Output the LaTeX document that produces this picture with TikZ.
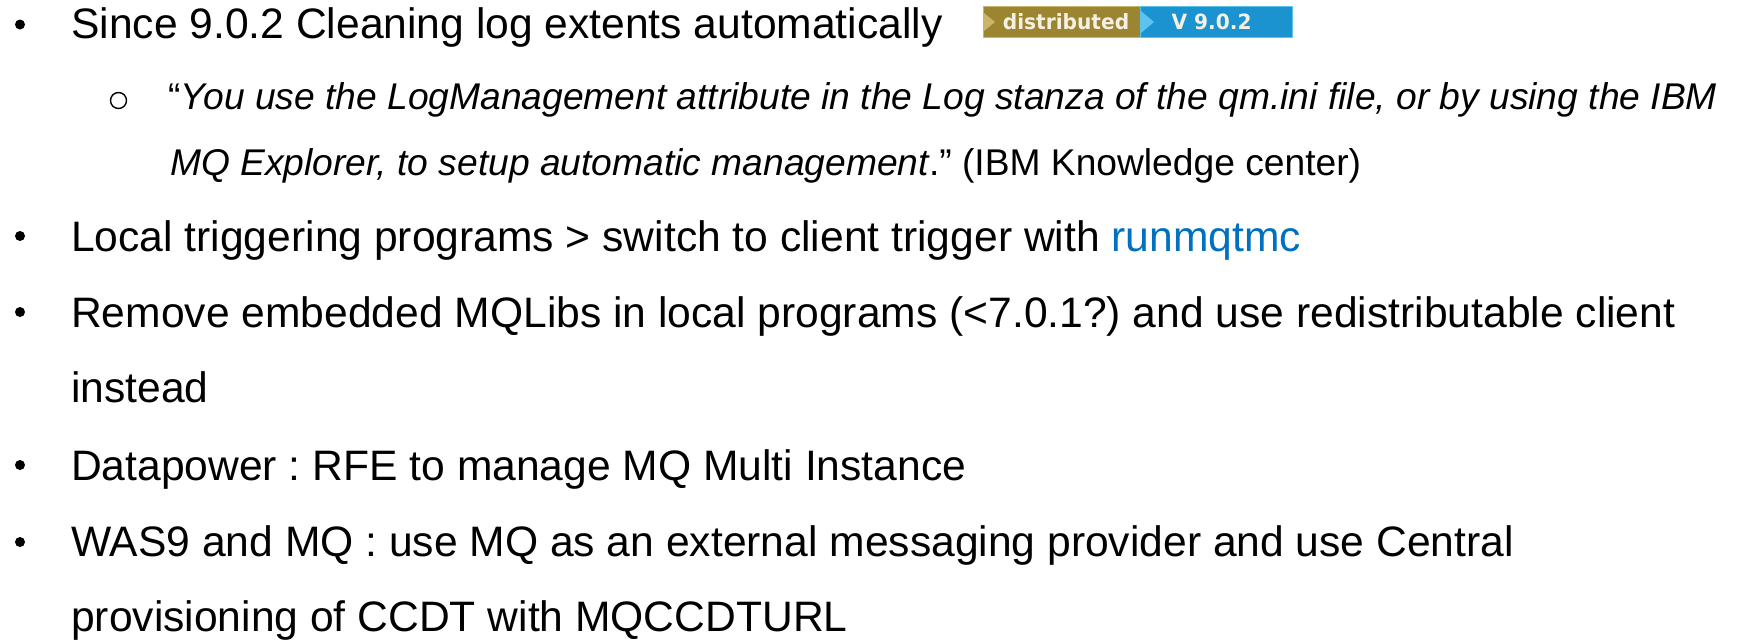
\documentclass[tikz,border=0pt]{standalone}
\usepackage{fontspec}
\setmainfont{Liberation Sans}
\newfontfamily\badgefont{DejaVu Sans}
\frenchspacing
\definecolor{linkblue}{HTML}{0070C0}
\definecolor{badgegold}{HTML}{9C8530}
\definecolor{badgegoldlt}{HTML}{C9B46A}
\definecolor{badgeblue}{HTML}{1B93D0}
\definecolor{badgebluelt}{HTML}{5CC3EE}
\definecolor{badgetext}{HTML}{F4F0E4}
\tikzset{
  x=1pt,y=1pt,
  maintext/.style={anchor=base west,inner sep=0pt,font=\fontsize{42.6}{50}\selectfont},
  subtext/.style={anchor=base west,inner sep=0pt,font=\fontsize{37.2}{44}\selectfont},
  dotbullet/.style={circle,fill=black,minimum size=10pt,inner sep=0pt},
  ringbullet/.style={circle,draw=black,line width=1.4pt,minimum size=16pt,inner sep=0pt},
  badgelabel/.style={inner sep=0pt,text=badgetext,font=\badgefont\bfseries\fontsize{21}{24}\selectfont}
}
\begin{document}
\begin{tikzpicture}
\useasboundingbox (0,0) rectangle (1741,-641);
\fill[white] (0,0) rectangle (1741,-641);
% line 1
\node[dotbullet] (b1) at (20,-24.5) {};
\node[maintext] (t1) at (71,-38) {Since 9.0.2 Cleaning log extents automatically};
% badge
\filldraw[fill=badgegold,draw=badgegoldlt,line width=1pt] (983.5,-6.5) rectangle (1140,-37.5);
\filldraw[fill=badgeblue,draw=badgebluelt,line width=1pt] (1140,-6.5) rectangle (1292.5,-37.5);
\fill[badgegoldlt] (984,-13) -- (995,-22) -- (984,-31) -- cycle;
\fill[badgebluelt] (1141,-11) -- (1154,-22) -- (1141,-33) -- cycle;
\node[badgelabel] (bd) at (1066,-22) {\scalebox{0.96}[1]{distributed}};
\node[badgelabel] (bv) at (1211.5,-22) {\scalebox{0.96}[1]{V 9.0.2}};
% sub item
\node[ringbullet] (s1) at (118.5,-100.5) {};
\node[subtext] (st1) at (168,-109) {``\textit{You use the LogManagement attribute in the Log stanza of the qm.ini file, or by using the IBM}};
\node[subtext] (st2) at (170,-175) {\textit{MQ Explorer, to setup automatic management}.'' (IBM Knowledge center)};
% line 2
\node[dotbullet] (b2) at (20,-236) {};
\node[maintext] (t2) at (71,-251) {Local triggering programs > switch to client trigger with \textcolor{linkblue}{runmqtmc}};
% line 3
\node[dotbullet] (b3) at (20,-312) {};
\node[maintext] (t3) at (71,-327) {Remove embedded MQLibs in local programs (<7.0.1?) and use redistributable client};
\node[maintext] (t3b) at (71,-402) {instead};
% line 4
\node[dotbullet] (b4) at (20,-465) {};
\node[maintext] (t4) at (71,-480) {Datapower : RFE to manage MQ Multi Instance};
% line 5
\node[dotbullet] (b5) at (20,-542) {};
\node[maintext] (t5) at (71,-556) {WAS9 and MQ : use MQ as an external messaging provider and use Central};
\node[maintext] (t5b) at (71,-631) {provisioning of CCDT with MQCCDTURL};
\end{tikzpicture}
\end{document}
